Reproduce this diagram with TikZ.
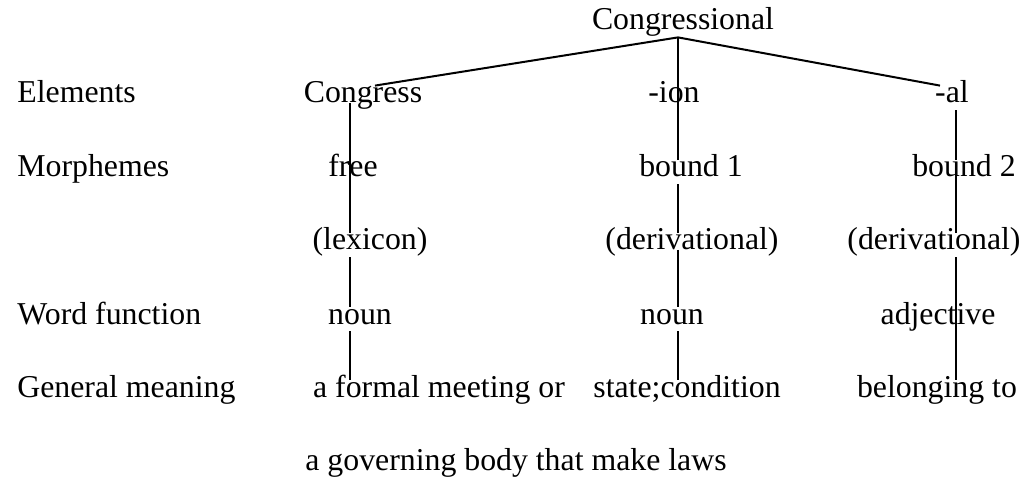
\documentclass[tikz,border=0pt]{standalone}
\usepackage{fontspec}
\setmainfont{Liberation Serif}
\usetikzlibrary{positioning}

\tikzset{
  word/.style={anchor=base, inner sep=1.5pt, text height=0.7em, text depth=0.2em},
  rowlabel/.style={word, anchor=base west},
  branch/.style={line width=1pt}
}

\begin{document}
\begin{tikzpicture}[x=0.5pt, y=-0.5pt, font=\fontsize{15.9}{19}\selectfont]
    \useasboundingbox (0,0) rectangle (1031,480);

    % --- row labels (left) ---
    \foreach \lbl/\yy in {Elements/103, Morphemes/177, Word function/324, General meaning/397}{
        \node[rowlabel] (row\yy) at (14,\yy) {\lbl};
    }

    % --- columns of the tree ---
    \coordinate (colA) at (350,0);
    \coordinate (colB) at (678,0);
    \coordinate (colC) at (956,0);

    % Root
    \node[word] (root) at (683,30) {Congressional};

    % Elements
    \node[word] (congress) at (363,103) {Congress};
    \node[word] (ion) at (674,103) {-ion};
    \node[word] (al) at (952,103) {-al};

    % Morphemes
    \node[word] (free) at (353,177) {free};
    \node[word] (boundA) at (691,177) {bound 1};
    \node[word] (boundB) at (964,177) {bound 2};
    \node[word] (lexicon) at (370,250) {(lexicon)};
    \node[word] (derivA) at (692,250) {(derivational)};
    \node[word] (derivB) at (934,250) {(derivational)};

    % Word function
    \node[word] (nounA) at (360,324) {noun};
    \node[word] (nounB) at (672,324) {noun};
    \node[word] (adjective) at (938,324) {adjective};

    % General meaning
    \node[word] (meetA) at (439,397) {a formal meeting or};
    \node[word] (state) at (687,397) {state;condition};
    \node[word] (belong) at (937,397) {belonging to};
    \node[word] (governing) at (516,470) {a governing body that make laws};

    % Fork under the root
    \coordinate (fork) at (root.south -| colB);
    \draw[branch] (fork) -- ([xshift=6pt]congress.north);
    \draw[branch] (fork) -- ([xshift=-6pt]al.north);
    \draw[branch] (fork) -- (boundA.north -| colB);

    % Left column
    \draw[branch] (congress.base -| colA) -- (lexicon.north -| colA);
    \draw[branch] (lexicon.south -| colA) -- (nounA.north -| colA);
    \draw[branch] (nounA.south -| colA) -- (meetA.north -| colA);

    % Middle column
    \draw[branch] (boundA.south -| colB) -- (derivA.north -| colB);
    \draw[branch] (derivA.base -| colB) -- (nounB.north -| colB);
    \draw[branch] (nounB.south -| colB) -- (state.north -| colB);

    % Right column
    \draw[branch] (al.south -| colC) -- (boundB.north -| colC);
    \draw[branch] (boundB.center -| colC) -- (derivB.north -| colC);
    \draw[branch] (derivB.south -| colC) -- (belong.north -| colC);
\end{tikzpicture}
\end{document}
